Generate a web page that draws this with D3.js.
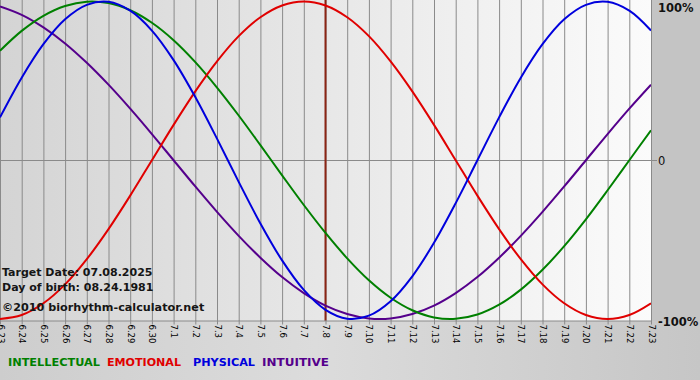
<!DOCTYPE html>
<html>
<head>
<meta charset="utf-8">
<script src="https://cdn.jsdelivr.net/npm/d3@7"></script>
<style>
  html, body { margin: 0; padding: 0; background: #c8c8c8; }
  svg { display: block; }
</style>
</head>
<body>
<svg id="chart" width="700" height="380"></svg>
<script>
const days = ["6.23","6.24","6.25","6.26","6.27","6.28","6.29","6.30","7.1","7.2","7.3","7.4","7.5","7.6","7.7","7.8","7.9","7.10","7.11","7.12","7.13","7.14","7.15","7.16","7.17","7.18","7.19","7.20","7.21","7.22","7.23"];
const physical = [0.270,0.520,0.731,0.888,0.979,0.998,0.942,0.817,0.631,0.398,0.136,-0.136,-0.398,-0.631,-0.817,-0.942,-0.998,-0.979,-0.888,-0.731,-0.520,-0.270,0.000,0.270,0.520,0.731,0.888,0.979,0.998,0.942,0.817];
const emotional = [-1.000,-0.975,-0.901,-0.782,-0.623,-0.434,-0.223,0.000,0.223,0.434,0.623,0.782,0.901,0.975,1.000,0.975,0.901,0.782,0.623,0.434,0.223,0.000,-0.223,-0.434,-0.623,-0.782,-0.901,-0.975,-1.000,-0.975,-0.901];
const intellectual = [0.690,0.815,0.910,0.972,0.999,0.990,0.945,0.866,0.756,0.618,0.458,0.282,0.095,-0.095,-0.282,-0.458,-0.618,-0.756,-0.866,-0.945,-0.990,-0.999,-0.972,-0.910,-0.815,-0.690,-0.541,-0.372,-0.189,0.000,0.189];
const intuitive = [0.969,0.916,0.837,0.736,0.614,0.476,0.325,0.165,0.000,-0.165,-0.325,-0.476,-0.614,-0.736,-0.837,-0.916,-0.969,-0.997,-0.997,-0.969,-0.916,-0.837,-0.736,-0.614,-0.476,-0.325,-0.165,0.000,0.165,0.325,0.476];
const targetDay = "7.8";
const yTicks = [{v: 1, label: "100%"}, {v: 0, label: "0"}, {v: -1, label: "-100%"}];
const seriesNames = ["INTELLECTUAL","EMOTIONAL","PHYSICAL","INTUITIVE"];
const infoLines = ["Target Date: 07.08.2025", "Day of birth: 08.24.1981"];
const copyright = "\u00A92010 biorhythm-calculator.net";

const colors = {INTELLECTUAL: "#008000", EMOTIONAL: "#e00000", PHYSICAL: "#0000dd", INTUITIVE: "#55008c"};
const seriesData = {INTELLECTUAL: intellectual, EMOTIONAL: emotional, PHYSICAL: physical, INTUITIVE: intuitive};

const W = 700, H = 380;
const plotL = 0, plotR = 651, plotT = 0, plotB = 321;
const svg = d3.select("#chart");
const FONT = "'DejaVu Sans', Verdana, sans-serif";

const defs = svg.append("defs");
const bgGrad = defs.append("linearGradient").attr("id", "plotbg").attr("x1", "0").attr("x2", "1").attr("y1", "0").attr("y2", "0");
bgGrad.append("stop").attr("offset", "0").attr("stop-color", "#d4d4d4");
bgGrad.append("stop").attr("offset", "1").attr("stop-color", "#fbfbfb");
const outGrad = defs.append("linearGradient").attr("id", "outbg").attr("x1", "0").attr("x2", "1").attr("y1", "0").attr("y2", "0");
outGrad.append("stop").attr("offset", "0").attr("stop-color", "#cdcdcd");
outGrad.append("stop").attr("offset", "0.45").attr("stop-color", "#dcdcdc");
outGrad.append("stop").attr("offset", "1").attr("stop-color", "#c6c6c6");
defs.append("clipPath").attr("id", "plotclip").append("rect")
  .attr("x", plotL).attr("y", plotT).attr("width", plotR - plotL).attr("height", plotB - plotT);

svg.append("rect").attr("width", W).attr("height", H).attr("fill", "url(#outbg)");
svg.append("rect").attr("x", plotR).attr("y", 0).attr("width", W - plotR).attr("height", plotB).attr("fill", "#c4c4c4");
svg.append("rect").attr("x", plotL).attr("y", plotT).attr("width", plotR - plotL).attr("height", plotB - plotT).attr("fill", "url(#plotbg)");

const x = d3.scalePoint().domain(days).range([plotL, plotR]);
const y = d3.scaleLinear().domain([-1, 1]).range([319, 1.5]);

// vertical grid
const grid = svg.append("g").attr("transform", `translate(0,${plotB})`)
  .call(d3.axisBottom(x).tickSize(-(plotB - plotT)).tickFormat(""));
grid.select(".domain").remove();
grid.selectAll(".tick line").attr("stroke", "#8a8a8a").attr("stroke-width", 1);

// zero line
svg.append("line").attr("x1", plotL).attr("x2", plotR + 6).attr("y1", Math.round(y(0)) + 0.5).attr("y2", Math.round(y(0)) + 0.5)
  .attr("stroke", "#8a8a8a");

// series
const line = d3.line().x((d, i) => x(days[i])).y(d => y(d)).curve(d3.curveCatmullRom.alpha(0.5));
const lines = svg.append("g").attr("clip-path", "url(#plotclip)");

// target line
lines.append("line").attr("x1", x(targetDay)).attr("x2", x(targetDay)).attr("y1", plotT).attr("y2", plotB)
  .attr("stroke", "#8a2414").attr("stroke-width", 2);

["INTUITIVE","INTELLECTUAL","EMOTIONAL","PHYSICAL"].forEach(name => {
  lines.append("path").datum(seriesData[name]).attr("d", line)
    .attr("fill", "none").attr("stroke", colors[name]).attr("stroke-width", 2);
});

// x axis
const xAxis = svg.append("g").attr("transform", `translate(0,${plotB - 0.5})`)
  .call(d3.axisBottom(x).tickSize(4).tickPadding(0));
xAxis.select(".domain").attr("stroke", "#8a8a8a").attr("d", `M${plotL},0.5H${plotR}`);
xAxis.selectAll(".tick line").attr("stroke", "#8a8a8a");
xAxis.selectAll(".tick text")
  .attr("transform", "rotate(90)")
  .attr("x", 4).attr("y", 0).attr("dy", "0.35em")
  .attr("text-anchor", "start")
  .attr("fill", "#000")
  .style("font-family", FONT)
  .style("font-size", "8.5px");

// right edge line
svg.append("line").attr("x1", plotR + 0.5).attr("x2", plotR + 0.5).attr("y1", 0).attr("y2", plotB)
  .attr("stroke", "#8a8a8a");

// y labels
svg.append("g").selectAll("text").data(yTicks).join("text")
  .attr("x", 658).attr("y", d => y(d.v) + (d.v === 1 ? 6 : d.v === -1 ? 3 : 1)).attr("dy", "0.35em")
  .attr("fill", "#111")
  .style("font-family", FONT)
  .style("font-size", "11.5px")
  .style("font-weight", d => d.v === 0 ? "normal" : "bold")
  .text(d => d.label);

// info text
svg.append("g").selectAll("text").data(infoLines).join("text")
  .attr("x", 2).attr("y", (d, i) => 276 + i * 15)
  .attr("fill", "#151515")
  .style("font-family", FONT)
  .style("font-size", "11px").style("font-weight", "bold")
  .text(d => d);
svg.append("text").attr("x", 2).attr("y", 311)
  .attr("fill", "#151515")
  .style("font-family", FONT)
  .style("font-size", "11.2px").style("font-weight", "bold")
  .text(copyright);

// legend
const legendX = [8, 107, 193, 262];
const legendW = [92, 74, 62, 67];
svg.append("g").selectAll("text").data(seriesNames).join("text")
  .attr("x", (d, i) => legendX[i]).attr("y", 366)
  .attr("fill", d => colors[d])
  .attr("textLength", (d, i) => legendW[i]).attr("lengthAdjust", "spacingAndGlyphs")
  .style("font-family", FONT)
  .style("font-size", "11px").style("font-weight", "bold")
  .text(d => d);
</script>
</body>
</html>
